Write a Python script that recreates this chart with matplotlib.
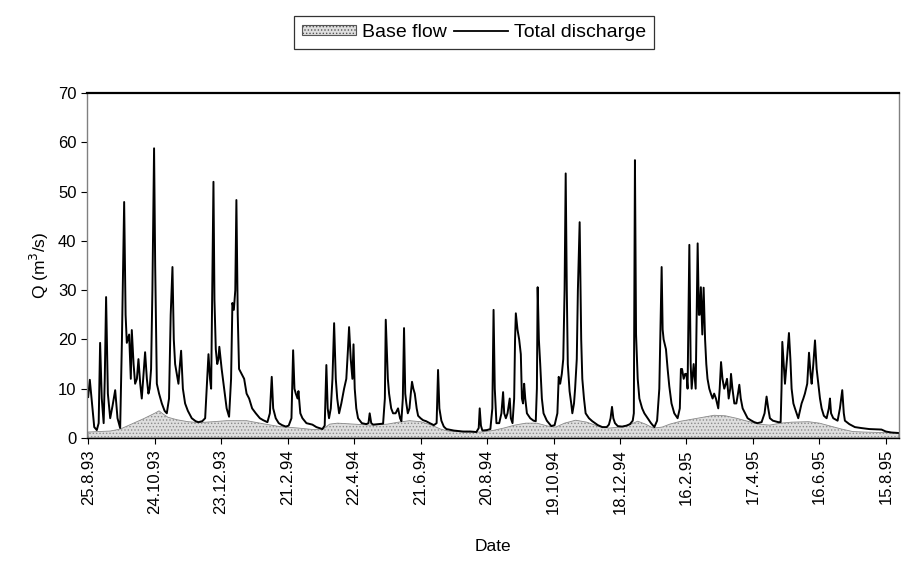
import matplotlib
matplotlib.use("Agg")
import matplotlib.pyplot as plt
from matplotlib.patches import Patch
from matplotlib.lines import Line2D

plt.rcParams['font.family'] = ['Liberation Sans', 'DejaVu Sans']
plt.rcParams['hatch.linewidth'] = 0.6

# x tick labels, one every 60 days from 25.8.93
tick_labels = ["25.8.93", "24.10.93", "23.12.93", "21.2.94", "22.4.94", "21.6.94",
               "20.8.94", "19.10.94", "18.12.94", "16.2.95", "17.4.95", "16.6.95", "15.8.95"]

# total discharge (day since 25.8.93, m3/s)
q_day = [0, 1.5, 3.5, 5.5, 7.8, 9.5, 10.8, 12.3, 14, 15, 16.2, 17.8, 19.9, 22, 24.4, 26.5, 28.9,
         30.5, 32.5, 33.8, 34.9, 37, 38.5, 39.4, 41, 42.4, 44, 45.4, 47, 48.4, 50, 51.4, 53, 54.4,
         55.5, 56.8, 58, 59.5, 60.5, 62, 64, 66.5, 69, 71, 73, 74.5, 76.1, 77.3, 78.5, 80, 81.5,
         82.5, 83.9, 85.5, 87.5, 90, 93.5, 97, 99.5, 103, 105.6, 107.5, 108.6, 110, 111, 112,
         113.1, 114, 115.2, 116.5, 117.6, 118.4, 120.5, 122.7, 125, 127.2, 129, 130.2, 131.5,
         132.8, 133.8, 135, 136.2, 138.5, 140.8, 143, 145.3, 148, 151.3, 155, 158, 161.8, 164,
         165.7, 167, 169.3, 172, 175, 178.4, 181, 183.5, 185, 186.2, 187.4, 189, 189.8, 191.5,
         193.4, 197, 202.4, 206, 211.4, 213.5, 215, 216.2, 217.4, 219, 220.5, 222, 223.5, 224.8,
         226.5, 228.5, 231, 233, 234.5, 235.5, 237, 238.5, 239.5, 240.6, 242, 243.6, 247, 251,
         253, 254.1, 255.5, 257.2, 262, 266.2, 267.8, 268.6, 269.5, 270.5, 271.6, 273.5, 275.2,
         277.5, 279.7, 281.5, 282.7, 284, 285.1, 286.2, 287.2, 288.5, 290, 291.2, 292.3, 293.5,
         294.8, 296.5, 297.8, 300, 302.3, 305, 308.3, 312, 314.5, 315.8, 317, 318.8, 321, 323.3,
         330, 338.4, 345, 350.4, 352.5, 353.4, 354.5, 355.8, 360, 363, 364.8, 365.9, 367, 368.5,
         371, 373, 374.5, 375.5, 377, 378.5, 380.5, 381.5, 383, 384.5, 385.3, 386, 387.5, 389,
         390.5, 391.5, 392.5, 393.5, 394.5, 396, 399, 402, 404, 405, 405.7, 406.8, 408, 409.5,
         411, 414, 418, 421, 423.5, 424.7, 426, 427.5, 428.8, 430, 431, 432, 432.9, 434.5, 436,
         437, 438.5, 439.5, 441, 442, 443.6, 445, 446, 447.5, 449, 452, 455, 460, 464, 468, 470,
         471.5, 472.8, 474, 475.5, 478, 482, 486, 489, 491.5, 492.5, 493.5, 494.5, 496, 497.5,
         500, 502, 505, 508, 511, 513.5, 515.5, 517.6, 518.5, 519.4, 520.5, 521.5, 523, 524.5,
         526.5, 529, 532, 534, 535, 536, 537.5, 538.8, 540, 541, 542.6, 543.8, 544.7, 546.5,
         548.3, 550.1, 551.2, 551.9, 553, 554.3, 555.5, 556.8, 557.9, 559, 560.6, 562, 563.6,
         565, 566.6, 568.7, 570, 571.2, 572.5, 574.1, 575.5, 576.6, 578.1, 579.5, 580.2, 581.5,
         583.2, 585, 586.5, 587.7, 589, 590.7, 593, 595.2, 598, 601.2, 604, 607.8, 610.5, 612.3,
         613.8, 615.3, 618, 622.9, 625, 625.8, 626.5, 627.5, 628.9, 630.7, 632.5, 633.8, 634.9,
         636.5, 637.9, 640.9, 643.9, 645.5, 646.9, 648, 649, 650.6, 652, 653, 654.5, 656, 657.5,
         659, 660.5, 662, 664, 666.5, 668.5, 669.5, 670.5, 672.5, 676.4, 678.5, 680.6, 682, 683,
         687, 692, 698, 705, 716, 720, 725, 731.5]
q_total = [8.3, 11.8, 7, 2.2, 1.6, 3, 19.3, 8, 3, 12, 28.6, 9, 4, 6.5, 9.7, 4, 2,
           20, 47.9, 25, 19.3, 21, 12, 21.9, 15, 11, 12, 16, 11, 8, 13, 17.4, 12, 9,
           10, 14, 30, 58.8, 35, 11, 9, 7, 5.5, 5, 8, 25, 34.7, 20, 15, 13, 11,
           14, 17.7, 10, 7, 5.5, 4, 3.4, 3.2, 3.4, 4, 12, 17, 12, 10, 30,
           52, 28, 18, 15, 16, 18.5, 14, 10, 6, 4.3, 12, 27.4, 26,
           30, 48.3, 25, 14, 13, 12, 9, 8, 6, 5, 4, 3.6, 3.2, 5,
           12.4, 6, 4, 3, 2.6, 2.3, 2.5, 4, 17.8, 10, 9, 8, 9.5, 5,
           4, 3, 2.7, 2.2, 1.8, 2.5, 14.8, 6, 4, 6, 12, 23.3, 12, 8,
           5, 7, 10, 12, 18, 22.5, 16, 12, 19, 10, 6, 4, 3, 2.8,
           3, 5, 3, 2.7, 2.8, 2.9, 8, 24, 18, 12, 9, 6, 5,
           5, 6, 4, 3.4, 8, 22.3, 9, 7, 5, 6, 9, 11.4, 10,
           9, 6, 4.5, 4, 3.6, 3.4, 3, 2.6, 3, 13.8, 6, 3.5, 2.3, 1.8,
           1.5, 1.3, 1.3, 1.2, 2, 6, 2.5, 1.5, 1.6, 1.8, 6, 26, 10, 3,
           3, 5, 9.3, 5, 4, 5, 8, 4, 3, 8, 20, 25.3, 22, 20,
           17, 8, 7, 11, 8, 5, 4, 3.5, 3.4, 10, 30.6, 20, 15, 8,
           5, 3.5, 2.4, 2.6, 5, 12.4, 11, 13, 16, 30, 53.7, 30, 15, 9.5, 7,
           5, 7, 10, 16, 30, 43.8, 20, 12, 8, 5, 4, 3.4, 2.6, 2.2, 2.2, 2.7,
           4, 6.3, 4, 3, 2.4, 2.3, 2.5, 2.8, 3.5, 5, 56.4, 21, 12, 8,
           6, 5, 4, 3, 2.2, 3.5, 10, 34.7, 22, 20, 19, 18, 14, 10.5,
           7, 5, 4, 6, 14, 14, 12, 13, 13, 10, 39.2, 15, 10, 15,
           10, 39.5, 25, 25, 30.6, 21, 30.5, 20, 15, 12, 10, 9, 8,
           9, 8, 6, 10, 15.4, 12, 10, 11, 12, 8, 10, 13, 10,
           7, 7, 9, 10.8, 8, 6, 5, 4, 3.6, 3.2, 3, 3.2, 5, 8.4,
           6, 4, 3.5, 3.2, 3.2, 10, 19.5, 16, 11, 16, 21.3, 16, 10,
           7, 6, 4, 7, 8, 9, 10, 11, 17.3, 13, 11, 15, 19.8, 14,
           11, 8, 6, 4.5, 4, 6, 8, 5, 4, 3.5, 6, 9.7, 5, 3.5,
           2.8, 2.2, 2, 1.8, 1.7, 1.3, 1.1, 1.0]

# base flow (day since 25.8.93, m3/s)
b_day = [0, 10, 20, 29, 40, 50, 60, 64, 68, 72, 80, 90, 100, 113, 125, 143, 160, 173, 190,
         203, 212, 218, 225, 240, 255, 270, 280, 290, 300, 310, 318, 325, 340, 355, 365, 375,
         385, 395, 405, 415, 422, 430, 440, 450, 460, 470, 480, 490, 496, 503, 510, 518, 525,
         535, 545, 555, 565, 575, 585, 595, 605, 615, 625, 635, 650, 660, 670, 680, 690, 700,
         715, 731.5]
q_base = [1.2, 1.3, 1.4, 1.8, 2.9, 3.9, 5.0, 5.5, 4.8, 4.2, 3.7, 3.3, 3.1, 3.3, 3.5, 3.5, 2.8,
          2.3, 2.0, 1.7, 1.8, 2.8, 3.0, 2.8, 2.6, 2.8, 3.2, 3.5, 3.3, 2.6, 1.8, 1.4, 1.2, 1.2,
          1.5, 2.0, 2.6, 3.0, 3.0, 2.4, 2.2, 3.0, 3.6, 3.2, 2.4, 2.0, 2.2, 2.8, 3.4, 2.8, 2.0,
          2.2, 2.8, 3.4, 3.8, 4.2, 4.6, 4.5, 4.0, 3.4, 2.8, 2.6, 3.0, 3.2, 3.3, 3.0, 2.4, 1.8,
          1.3, 1.2, 1.1, 1.0]

fig = plt.figure(figsize=(9.01, 5.68), dpi=100)
ax = fig.add_axes([0.0966, 0.229, 0.9014, 0.607])

ax.fill_between(b_day, 0, q_base, facecolor='#dedede', edgecolor='#8a8a8a',
                hatch='.....', linewidth=0.6, zorder=1)
ax.plot(q_day, q_total, color='black', linewidth=1.4, zorder=2)

ax.set_xlim(-1, 732)
ax.set_ylim(0, 70)
ax.set_yticks(range(0, 71, 10))
ax.set_xticks(range(0, 721, 60))
ax.set_xticklabels(tick_labels, rotation=90)
ax.tick_params(axis='both', direction='out', length=4, labelsize=12, width=0.8)
ax.tick_params(axis='x', pad=4)

for s in ['left', 'right']:
    ax.spines[s].set_color('#808080')
    ax.spines[s].set_linewidth(1.0)
ax.spines['top'].set_linewidth(1.6)
ax.spines['bottom'].set_linewidth(1.0)

ax.set_ylabel('Q (m$^3$/s)', fontsize=12.5, labelpad=5)
ax.set_xlabel('Date', fontsize=12.5, labelpad=18)

handles = [Patch(facecolor='#dedede', edgecolor='#555555', hatch='.....', linewidth=0.8),
           Line2D([0], [0], color='black', linewidth=1.3)]
leg = fig.legend(handles, ['Base flow', 'Total discharge'], loc='center',
                 bbox_to_anchor=(0.526, 0.943), ncol=2, fontsize=14, frameon=True,
                 fancybox=False, edgecolor='black', handlelength=2.8, handleheight=0.45,
                 columnspacing=0.35, handletextpad=0.3, borderpad=0.4, borderaxespad=0)
leg.get_frame().set_linewidth(0.9)

fig.savefig('out.png', dpi=100)
